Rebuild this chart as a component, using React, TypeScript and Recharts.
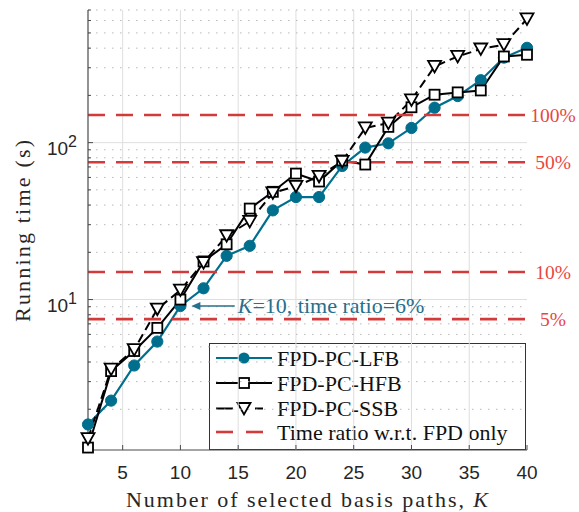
import React from 'react';
import { LineChart, Line, XAxis, YAxis, ReferenceLine, Customized } from 'recharts';

// number of selected basis paths K
const basisPaths = [2, 4, 6, 8, 10, 12, 14, 16, 18, 20, 22, 24, 26, 28, 30, 32, 34, 36, 38, 40];
// running time (s) per method
const lfbTime = [1.6, 2.27, 3.8, 5.4, 9.1, 11.8, 19, 22, 37, 45, 45, 71, 93, 99, 124, 167, 198, 250, 348, 402];
const hfbTime = [1.14, 3.5, 4.7, 6.6, 10, 17.5, 22.5, 38, 48.6, 63.5, 56.5, 77, 72.5, 126, 168, 202, 209, 215, 354, 363];
const ssbTime = [1.3, 3.6, 4.8, 8.7, 11.5, 17.2, 25.5, 31.5, 47.8, 52.7, 61, 76, 124, 133, 187, 306, 354, 395, 421, 614];

// time ratio w.r.t. FPD only (FPD only = 150 s)
const ratioTime = [150, 75, 15, 7.5];
const ratioLabels = ['100%', '50%', '10%', '5%'];

const xTicks = [5, 10, 15, 20, 25, 30, 35, 40];
const yMajor = [10, 100];
const yMinor = [2, 3, 4, 5, 6, 7, 8, 9, 20, 30, 40, 50, 60, 70, 80, 90, 200, 300, 400, 500, 600, 700];
const yTicks = [...yMinor, ...yMajor].sort((a, b) => a - b);
const legendNames = ['FPD-PC-LFB', 'FPD-PC-HFB', 'FPD-PC-SSB', 'Time ratio w.r.t. FPD only'];

const annotK = 10;
const annotTime = lfbTime[basisPaths.indexOf(annotK)];

const data = basisPaths.map((k, i) => ({ k, lfb: lfbTime[i], hfb: hfbTime[i], ssb: ssbTime[i] }));

const TEAL = '#006f8e';
const ANNOT = '#24708d';
const RED = '#d23b3b';
const RED_TEXT = '#e8463f';
const AXIS = '#4a4a4a';
const SERIF = '"Liberation Serif", "Times New Roman", serif';
const SANS = '"Liberation Sans", Arial, sans-serif';

const supDigit: Record<number, string> = { 10: '1', 100: '2' };

const LeftTick = (p: any) => {
  const v = p.payload.value;
  const major = yMajor.includes(v);
  return (
    <g>
      <line x1={p.x} x2={p.x + (major ? 5 : 3)} y1={p.y} y2={p.y} stroke={AXIS} strokeWidth={1} />
      {major && (
        <text x={p.x - 11} y={p.y + 12} textAnchor="end" fontFamily={SANS} fontSize={19} fill="#262626">
          <tspan>10</tspan>
          <tspan dy={-8} fontSize={16}>{supDigit[v]}</tspan>
        </text>
      )}
    </g>
  );
};

const RightTick = (p: any) => {
  const major = yMajor.includes(p.payload.value);
  return <line x1={p.x} x2={p.x - (major ? 5 : 3)} y1={p.y} y2={p.y} stroke={AXIS} strokeWidth={1} />;
};

const BottomTick = (p: any) => (
  <g>
    <line x1={p.x} x2={p.x} y1={p.y} y2={p.y - 5} stroke={AXIS} strokeWidth={1} />
    <text x={p.x} y={p.y + 29} textAnchor="middle" fontFamily={SANS} fontSize={19} fill="#262626">
      {p.payload.value}
    </text>
  </g>
);

const TopTick = (p: any) => <line x1={p.x} x2={p.x} y1={p.y} y2={p.y + 5} stroke={AXIS} strokeWidth={1} />;

const CircleDot = (p: any) => (
  <circle key={`c${p.index}`} cx={p.cx} cy={p.cy} r={5.6} fill={TEAL} stroke={TEAL} strokeWidth={1} />
);
const SquareDot = (p: any) => (
  <rect key={`s${p.index}`} x={p.cx - 5} y={p.cy - 5} width={10} height={10} fill="#fff" stroke="#000" strokeWidth={1.8} />
);
const TriDot = (p: any) => (
  <polygon
    key={`t${p.index}`}
    points={`${p.cx - 6.5},${p.cy - 5.5} ${p.cx + 6.5},${p.cy - 5.5} ${p.cx},${p.cy + 6}`}
    fill="#fff"
    stroke="#000"
    strokeWidth={1.8}
    strokeLinejoin="miter"
  />
);

const ratioLabel = (text: string) => (props: any) => {
  const vb = props.viewBox;
  return (
    <text x={vb.x + vb.width + 26} y={vb.y + 7} textAnchor="middle" fontFamily={SERIF} fontSize={19.5} fill={RED_TEXT}>
      {text}
    </text>
  );
};

const AnnotArrow = (p: any) => (
  <g>
    <line x1={p.x1 + 7} y1={p.y1} x2={p.x2} y2={p.y2} stroke={ANNOT} strokeWidth={1.5} />
    <polygon points={`${p.x1},${p.y1} ${p.x1 + 9},${p.y1 - 4} ${p.x1 + 9},${p.y1 + 4}`} fill={ANNOT} />
    <text x={p.x2 + 3} y={p.y2 + 7} fontFamily={SERIF} fontSize={22} fill={ANNOT}>
      <tspan fontStyle="italic">K</tspan>=10, time ratio=6%
    </text>
  </g>
);

const Decorations = () => {
  const rows = [358, 383, 408.5, 432];
  return (
    <g>
      <text x={307} y={506.5} textAnchor="middle" fontFamily={SERIF} fontSize={22} fill="#262626" textLength={362} lengthAdjust="spacing">
        Number of selected basis paths, <tspan fontStyle="italic">K</tspan>
      </text>
      <text transform="translate(29.5,231) rotate(-90)" textAnchor="middle" fontFamily={SERIF} fontSize={22} fill="#262626" textLength={182} lengthAdjust="spacing">
        Running time (s)
      </text>
      <rect x={209.5} y={343.5} width={316} height={106} fill="#fff" stroke="#333" strokeWidth={1} />
      <line x1={216} x2={272} y1={rows[0]} y2={rows[0]} stroke={TEAL} strokeWidth={2.2} />
      <circle cx={244} cy={rows[0]} r={5.6} fill={TEAL} />
      <line x1={216} x2={272} y1={rows[1]} y2={rows[1]} stroke="#000" strokeWidth={2} />
      <rect x={239} y={rows[1] - 5} width={10} height={10} fill="#fff" stroke="#000" strokeWidth={1.8} />
      <line x1={216} x2={233} y1={rows[2]} y2={rows[2]} stroke="#000" strokeWidth={2} />
      <line x1={255} x2={263} y1={rows[2]} y2={rows[2]} stroke="#000" strokeWidth={2} />
      <polygon points={`237.5,${rows[2] - 5.5} 250.5,${rows[2] - 5.5} 244,${rows[2] + 6}`} fill="#fff" stroke="#000" strokeWidth={1.8} />
      <line x1={216} x2={233} y1={rows[3]} y2={rows[3]} stroke={RED} strokeWidth={2.6} />
      <line x1={246} x2={263} y1={rows[3]} y2={rows[3]} stroke={RED} strokeWidth={2.6} />
      {legendNames.map((n, i) => (
        <text key={n} x={277} y={rows[i] + 7.5} fontFamily={SERIF} fontSize={22} fill="#111">
          {n}
        </text>
      ))}
    </g>
  );
};

export default function App() {
  return (
    <div style={{ position: 'absolute', left: 0, top: 0, background: '#fff' }}>
      <LineChart width={579} height={512} data={data} margin={{ top: 10, right: 52, bottom: 22, left: 0 }}>
        <XAxis
          dataKey="k"
          type="number"
          domain={[2, 40]}
          ticks={xTicks}
          interval={0}
          height={40}
          tickSize={0}
          tickMargin={0}
          tick={<BottomTick />}
          axisLine={{ stroke: AXIS, strokeWidth: 1.2 }}
          tickLine={false}
        />
        <XAxis
          xAxisId="top"
          orientation="top"
          dataKey="k"
          type="number"
          domain={[2, 40]}
          ticks={xTicks}
          interval={0}
          height={0}
          tickSize={0}
          tickMargin={0}
          tick={<TopTick />}
          axisLine={{ stroke: AXIS, strokeWidth: 1.2 }}
          tickLine={false}
        />
        <YAxis
          scale="log"
          type="number"
          domain={[1.1, 700]}
          ticks={yTicks}
          interval={0}
          width={88}
          tickSize={0}
          tickMargin={0}
          tick={<LeftTick />}
          axisLine={{ stroke: AXIS, strokeWidth: 1.2 }}
          tickLine={false}
        />
        <YAxis
          yAxisId="r"
          orientation="right"
          scale="log"
          type="number"
          domain={[1.1, 700]}
          ticks={yTicks}
          interval={0}
          width={0}
          tickSize={0}
          tickMargin={0}
          tick={<RightTick />}
          axisLine={{ stroke: AXIS, strokeWidth: 1.2 }}
          tickLine={false}
        />

        {xTicks.filter((t) => t < 40).map((t) => (
          <ReferenceLine key={`vx${t}`} x={t} stroke="#dedede" strokeWidth={1} />
        ))}
        {yMinor.map((t) => (
          <ReferenceLine key={`my${t}`} y={t} stroke="#b8b8b8" strokeWidth={1} strokeDasharray="1.5 6.5" />
        ))}
        {yMajor.map((t) => (
          <ReferenceLine key={`My${t}`} y={t} stroke="#dedede" strokeWidth={1} />
        ))}

        <Line dataKey="lfb" stroke={TEAL} strokeWidth={2.2} dot={CircleDot} isAnimationActive={false} />
        <Line dataKey="hfb" stroke="#000" strokeWidth={2} dot={SquareDot} isAnimationActive={false} />
        <Line dataKey="ssb" stroke="#000" strokeWidth={2} strokeDasharray="9 5" dot={TriDot} isAnimationActive={false} />

        {ratioTime.map((v, i) => (
          <ReferenceLine
            key={`r${v}`}
            y={v}
            stroke={RED}
            strokeWidth={2.6}
            strokeDasharray="17 11"
            label={ratioLabel(ratioLabels[i])}
          />
        ))}

        <ReferenceLine
          segment={[
            { x: annotK + 0.95, y: annotTime },
            { x: annotK + 4.7, y: annotTime },
          ]}
          shape={AnnotArrow}
        />
        <Customized component={Decorations} />
      </LineChart>
    </div>
  );
}
